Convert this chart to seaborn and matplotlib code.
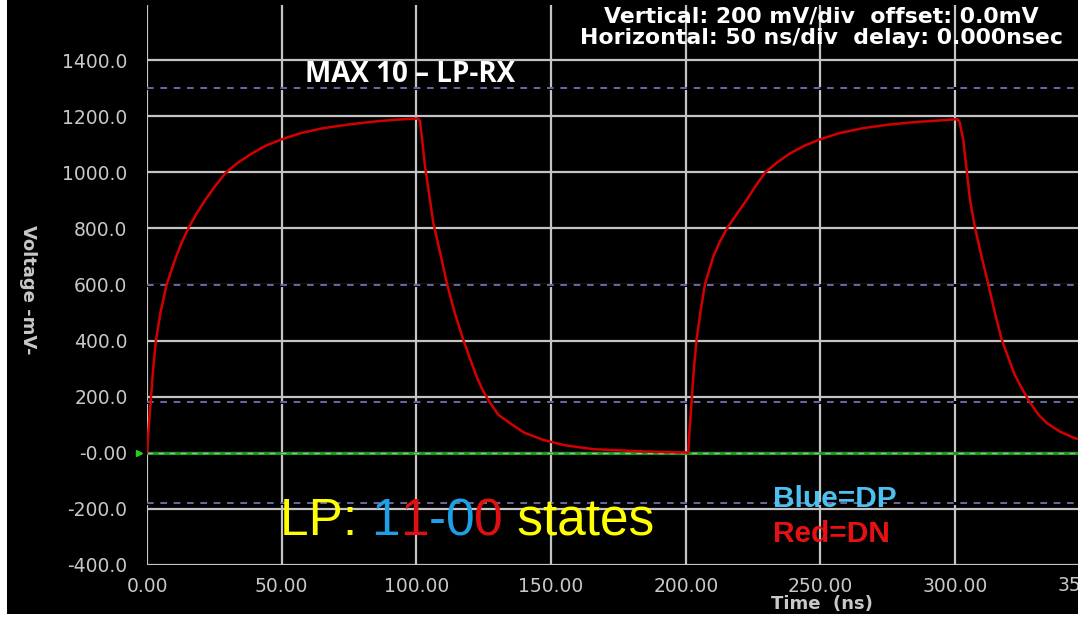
import numpy as np
import pandas as pd
import matplotlib
matplotlib.use("Agg")
import matplotlib.pyplot as plt
from matplotlib.patches import Rectangle
import seaborn as sns

# ---------------- data ----------------
time_ns = [0, 0.7, 1.5, 2.3, 3.3, 5.0, 7.3, 10.8, 12.9, 15.3, 18.2, 21.5, 25.2, 29.3, 33.8,
           38.5, 44, 50, 57, 65.5, 75, 84, 91, 97.6,
           100.5, 101.3, 102.2, 103.2, 106.3, 109, 111.4, 114.2, 117.4, 122, 124.5, 127.3,
           130.5, 134.7, 140, 147.1, 155, 165.7, 184.2, 199.7,
           200.9, 201.5, 202.2, 203, 204, 205.4, 207.1, 210.2, 212.5, 215.2, 218.8, 222.6,
           225.8, 229.4, 233.8, 238.7, 244, 249.8, 257, 265.9, 275, 284.5, 296.8, 300.8,
           301.6, 303, 305.5, 307.4, 309.8, 312.3, 314.7, 317.3, 322, 325, 327.8, 331, 334,
           339, 344.5, 346]
dn_mv = [0, 100, 200, 300, 400, 500, 600, 700, 750, 800, 850, 900, 950, 1000, 1035,
         1065, 1095, 1118, 1140, 1158, 1171, 1181, 1187, 1191,
         1192, 1185, 1110, 1021, 819, 705, 601, 500, 403, 280, 225, 179,
         135, 106, 72, 46, 27, 13, 5, 1,
         0, 100, 190, 300, 403, 500, 601, 700, 750, 799, 850, 902,
         950, 999, 1035, 1068, 1095, 1118, 1140, 1158, 1170, 1179, 1187, 1190,
         1180, 1116, 902, 800, 700, 601, 500, 403, 280, 225, 179, 135, 106,
         75, 52, 48]

x_ticks = [0, 50, 100, 150, 200, 250, 300]
x_tick_labels = ["0.00", "50.00", "100.00", "150.00", "200.00", "250.00", "300.00"]
extra_x_tick = [350]
extra_x_label = ["350.00"]
y_ticks = [-400, -200, 0, 200, 400, 600, 800, 1000, 1200, 1400]
y_tick_labels = ["-400.0", "-200.0", "-0.00", "200.0", "400.0", "600.0",
                 "800.0", "1000.0", "1200.0", "1400.0"]
ref_levels = [1300, 600, 180, -180]
ground_level = [0.0]

header_lines = ["Vertical: 200 mV/div  offset: 0.0mV",
                "Horizontal: 50 ns/div  delay: 0.000nsec"]
title_text = "MAX 10 \u2013 LP-RX"
lp_parts = [("LP: ", "#ffff00"), ("1", "#1ea0e6"), ("1", "#e01010"),
            ("-", "#1ea0e6"), ("0", "#1ea0e6"), ("0", "#e01010"), (" states", "#ffff00")]
legend_texts = [("Blue=DP", "#4cc0f0"), ("Red=DN", "#e81010")]

# ---------------- figure ----------------
sns.set_theme(style="dark")
plt.rcParams["font.family"] = ["DejaVu Sans"]

W, H = 1078, 618
fig = plt.figure(figsize=(W / 100, H / 100), dpi=100, facecolor="white")
fig.patches.append(Rectangle((7 / W, 4 / H), 1, 1, transform=fig.transFigure,
                             facecolor="black", edgecolor="none", zorder=-10))

ax = fig.add_axes([147 / W, (H - 565) / H, (W - 147) / W, 560 / H])
ax.set_facecolor("black")

df = pd.DataFrame({"t": time_ns, "v": dn_mv})

grid_c = "#c4c4c4"
tick_c = "#c8c8c8"
ax.set_xlim(0, (W - 147) / 2.694)
ax.set_ylim(-400, 1597)
ax.set_xticks(x_ticks)
ax.set_xticklabels(x_tick_labels)
ax.set_yticks(y_ticks)
ax.set_yticklabels(y_tick_labels)
ax.grid(True, color=grid_c, lw=1.6, zorder=1)
ax.set_axisbelow(True)
for s in ax.spines.values():
    s.set_visible(False)
ax.tick_params(axis="x", length=8, width=1.6, color=grid_c, pad=1,
               labelcolor=tick_c, labelsize=13.5)
ax.tick_params(axis="y", length=0, pad=14, labelcolor=tick_c, labelsize=13.5)

# extra tick label at 350 (runs off the right edge as in the reference)
for xv, lab in zip(extra_x_tick, extra_x_label):
    ax.annotate(lab, xy=(xv, -400), xycoords="data", xytext=(0, -8.2),
                textcoords="offset points", ha="center", va="top",
                color=tick_c, fontsize=13.5, annotation_clip=False)

# reference dashed levels
for lv in ref_levels:
    ax.axhline(lv, color="black", lw=2.2, zorder=2)
    ax.axhline(lv, color="#7a7ac0", lw=1.2, ls=(0, (4, 4)), zorder=3)

# ground level: green trace with gray dashes + marker
for g in ground_level:
    ax.axhline(g, color="#10a010", lw=2.2, zorder=2)
    ax.axhline(g, color="#b0b0b0", lw=1.0, ls=(0, (4, 4)), zorder=3)
    ax.plot([-3], [g], marker=">", color="#20d020", ms=5, clip_on=False, zorder=5)

# signal
sns.lineplot(data=df, x="t", y="v", ax=ax, color="#d40000", lw=1.8,
             sort=False, estimator=None, zorder=4)
ax.set_xlabel("")
ax.set_ylabel("")

# axis titles
fig.text(28 / W, 1 - 290 / H, "Voltage -mV-", rotation=-90, ha="center", va="center",
         color=tick_c, fontsize=13, fontweight="bold")
fig.text(822 / W, 1 - 604 / H, "Time  (ns)", ha="center", va="center",
         color=tick_c, fontsize=13, fontweight="bold")

# header
fig.text(821 / W, 1 - 16 / H, header_lines[0], ha="center", va="center",
         color="white", fontsize=15.8, fontweight="bold")
fig.text(821 / W, 1 - 38 / H, header_lines[1], ha="center", va="center",
         color="white", fontsize=15.8, fontweight="bold")

# title
fig.text(410 / W, 1 - 75 / H, title_text, ha="center", va="center", color="white",
         fontsize=20, fontweight="bold", family=["Open Sans", "DejaVu Sans"])

# multi-coloured LP label
prev = None
for txt, col in lp_parts:
    if prev is None:
        prev = fig.text(280 / W, 1 - 535 / H, txt, ha="left", va="baseline", color=col,
                        fontsize=37, family=["Liberation Sans", "DejaVu Sans"])
    else:
        prev = ax.annotate(txt, xy=(1, 0), xycoords=prev, ha="left", va="bottom",
                           color=col, fontsize=37,
                           family=["Liberation Sans", "DejaVu Sans"])

# legend-like labels
fig.text(773 / W, 1 - 507 / H, legend_texts[0][0], ha="left", va="baseline",
         color=legend_texts[0][1], fontsize=21.5, fontweight="bold",
         family=["Liberation Sans", "DejaVu Sans"])
fig.text(773 / W, 1 - 542 / H, legend_texts[1][0], ha="left", va="baseline",
         color=legend_texts[1][1], fontsize=21.5, fontweight="bold",
         family=["Liberation Sans", "DejaVu Sans"])

fig.savefig("out.png", dpi=100, facecolor=fig.get_facecolor())
